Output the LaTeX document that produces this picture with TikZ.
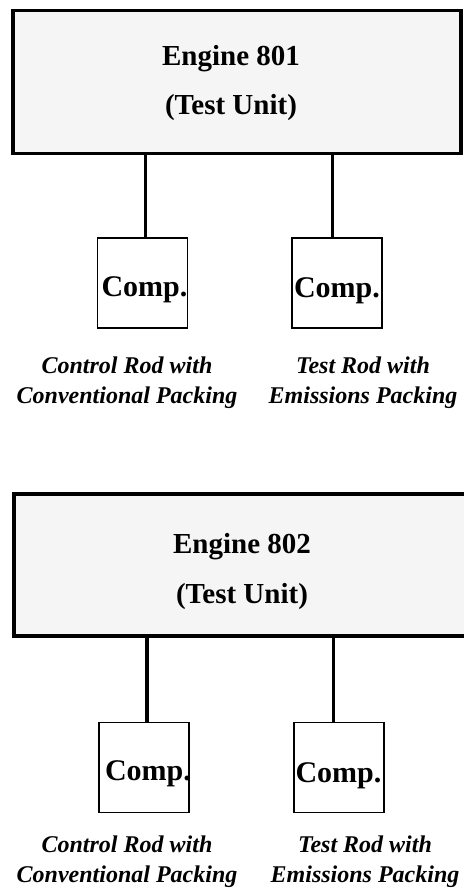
\documentclass[tikz,border=0pt]{standalone}
\usepackage{fontspec}
\setmainfont{Liberation Serif}
\begin{document}
\begin{tikzpicture}[x=1pt,y=-1pt,
  enginebox/.style={draw=black,line width=3.5pt,fill=boxgray,inner sep=0pt,
    minimum width=#1},
  compbox/.style={draw=black,line width=1.8pt,fill=white,inner sep=0pt,
    minimum width=90pt,minimum height=90pt},
  title/.style={anchor=base,align=center,inner sep=0pt,
    font=\fontsize{29}{50}\selectfont\bfseries},
  comptext/.style={anchor=base,inner sep=0pt,font=\fontsize{30}{34}\selectfont\bfseries},
  caption/.style={anchor=base,align=center,inner sep=0pt,
    font=\fontsize{24}{30}\selectfont\bfseries\itshape},
  link/.style={draw=black,line width=#1},
]
\definecolor{boxgray}{HTML}{F5F5F5}
\useasboundingbox (0,0) rectangle (463,888);

% ---- upper test unit (anchors sit on the last text line) ----
\node[enginebox=448pt,minimum height=143.4pt] (e1) at (237,82) {};
\node[title] (e1t) at (231,115) {Engine 801\\(Test Unit)};
\node[compbox] (c1) at (142.5,283) {};
\node[compbox] (c2) at (337,283) {};
\node[comptext] (c1t) at (144.5,296) {Comp.};
\node[comptext] (c2t) at (337,297) {Comp.};
\coordinate (x1) at (145,0);
\coordinate (x2) at (332,0);
\draw[link=3pt] (x1 |- e1.south) -- (x1 |- c1.north);
\draw[link=3pt] (x2 |- e1.south) -- (x2 |- c2.north);
\node[caption] (l1) at (127,403) {Control Rod with\\Conventional Packing};
\node[caption] (l2) at (363,403) {Test Rod with\\Emissions Packing};

% ---- lower test unit ----
\node[enginebox=456pt,minimum height=141.7pt] (e2) at (242,565) {};
\node[title] (e2t) at (242,603) {Engine 802\\(Test Unit)};
\node[compbox] (c3) at (144,767.5) {};
\node[compbox] (c4) at (339,767.5) {};
\node[comptext] (c3t) at (148,780) {Comp.};
\node[comptext] (c4t) at (338.5,782) {Comp.};
\coordinate (x3) at (147,0);
\coordinate (x4) at (333,0);
\draw[link=4pt] (x3 |- e2.south) -- (x3 |- c3.north);
\draw[link=3pt] (x4 |- e2.south) -- (x4 |- c4.north);
\node[caption] (l3) at (127,882) {Control Rod with\\Conventional Packing};
\node[caption] (l4) at (365,882) {Test Rod with\\Emissions Packing};
\end{tikzpicture}
\end{document}
